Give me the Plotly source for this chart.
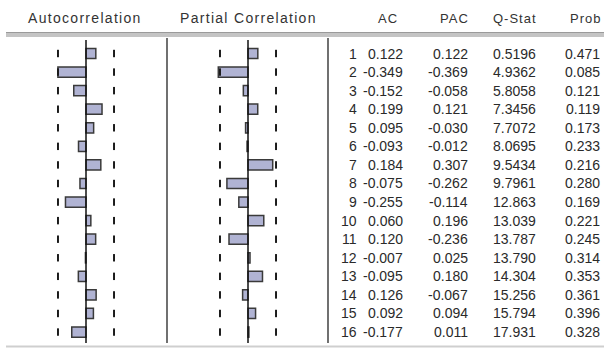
import plotly.graph_objects as go

# Correlogram of a series with 33 observations, lags 1..16
lags = list(range(1, 17))
ac = [0.122, -0.349, -0.152, 0.199, 0.095, -0.093, 0.184, -0.075,
      -0.255, 0.060, 0.120, -0.007, -0.095, 0.126, 0.092, -0.177]
pac = [0.122, -0.369, -0.058, 0.121, -0.030, -0.012, 0.307, -0.262,
       -0.114, 0.196, -0.236, 0.025, 0.180, -0.067, 0.094, 0.011]
q_stat = [0.5196, 4.9362, 5.8058, 7.3456, 7.7072, 8.0695, 9.5434, 9.7961,
          12.863, 13.039, 13.787, 13.790, 14.304, 15.256, 15.794, 17.931]
prob = [0.471, 0.085, 0.121, 0.119, 0.173, 0.233, 0.216, 0.280,
        0.169, 0.221, 0.245, 0.314, 0.353, 0.361, 0.396, 0.328]
n_obs = 33
col_headers = ["AC", "PAC", "Q-Stat", "Prob"]

W, H = 604, 349
bound = 2 / n_obs ** 0.5          # approx. 2 standard-error band
px_per_unit = 80.5                # bar scale, pixels per unit correlation
row_top, row_step = 53.5, 18.57   # pixel centre of lag 1, spacing between lags

def px_to_lag(py):
    return 1 + (py - row_top) / row_step

def xrange_for(zero_px):
    return [-zero_px / px_per_unit, (W - zero_px) / px_per_unit]

BAR_FILL = "#b0b3d3"
BAR_LINE = "#3a3a3a"
TXT = "#2a2a2a"
FONT = "Arial, Liberation Sans, sans-serif"

fig = go.Figure()

# bars
fig.add_trace(go.Bar(y=lags, x=ac, orientation="h", width=0.55, base=0,
                     marker=dict(color=BAR_FILL, line=dict(color=BAR_LINE, width=1.5)),
                     xaxis="x", yaxis="y", hoverinfo="skip"))
fig.add_trace(go.Bar(y=lags, x=pac, orientation="h", width=0.55, base=0,
                     marker=dict(color=BAR_FILL, line=dict(color=BAR_LINE, width=1.5)),
                     xaxis="x2", yaxis="y", hoverinfo="skip"))

# dashed confidence bands: one short tick per lag
def band_xy(sign):
    xs, ys = [], []
    for l in lags:
        xs += [sign * bound, sign * bound, None]
        ys += [l - 0.2, l + 0.2, None]
    return xs, ys

for ax in ("x", "x2"):
    for s in (-1, 1):
        bx, by = band_xy(s)
        fig.add_trace(go.Scatter(x=bx, y=by, mode="lines",
                                 line=dict(color="#1a1a1a", width=2),
                                 xaxis=ax, yaxis="y", hoverinfo="skip"))

shapes = []
# zero lines
for ax in ("x", "x2"):
    shapes.append(dict(type="line", xref=ax, yref="paper", x0=0, x1=0,
                       y0=1 - 40 / H, y1=1 - 343 / H,
                       line=dict(color="#111", width=1.5)))
# panel separators
for px in (167, 328):
    shapes.append(dict(type="line", xref="paper", yref="paper",
                       x0=px / W, x1=px / W, y0=1 - 38 / H, y1=1 - 343 / H,
                       line=dict(color="#111", width=1.2)))
# header rule
shapes.append(dict(type="rect", xref="paper", yref="paper", x0=6 / W, x1=1,
                   y0=1 - 37 / H, y1=1 - 32 / H, fillcolor="#c4c4c4",
                   line=dict(width=0), layer="below"))
shapes.append(dict(type="line", xref="paper", yref="paper", x0=6 / W, x1=1,
                   y0=1 - 32.5 / H, y1=1 - 32.5 / H,
                   line=dict(color="#9a9a9a", width=1)))
# bottom rule
shapes.append(dict(type="line", xref="paper", yref="paper", x0=6 / W, x1=1,
                   y0=1 - 346.5 / H, y1=1 - 346.5 / H,
                   line=dict(color="#cfcfcf", width=2)))

annotations = []
def header(text, cx, anchor="center", size=14, spacing=1.3):
    annotations.append(dict(
        text=f'<span style="letter-spacing:{spacing}px">{text}</span>',
        x=cx / W, y=1 - 18 / H, xref="paper", yref="paper",
        xanchor=anchor, yanchor="middle", showarrow=False,
        borderpad=0, borderwidth=0,
        font=dict(family=FONT, size=size, color="#333")))

header("Autocorrelation", 85)
header("Partial Correlation", 248)
for h, right in zip(col_headers, (398, 469, 537, 601)):
    header(h, right, anchor="right", size=13, spacing=1.0)

def cell(text, right_px, lag):
    annotations.append(dict(
        text=text, x=right_px / W, y=lag, xref="paper", yref="y",
        xanchor="right", yanchor="middle", showarrow=False,
        borderpad=0, borderwidth=0,
        font=dict(family=FONT, size=14, color=TXT)))

def fmt_q(q):
    return f"{q:.4f}" if q < 10 else f"{q:.3f}"

for i, l in enumerate(lags):
    cell(str(l), 357, l)
    cell(f"{ac[i]:.3f}", 403, l)
    cell(f"{pac[i]:.3f}", 468, l)
    cell(fmt_q(q_stat[i]), 536, l)
    cell(f"{prob[i]:.3f}", 600, l)

fig.update_layout(
    width=W, height=H,
    margin=dict(l=0, r=0, t=0, b=0),
    paper_bgcolor="white", plot_bgcolor="white",
    showlegend=False, barmode="overlay",
    xaxis=dict(range=xrange_for(86), domain=[0, 1], visible=False, fixedrange=True),
    xaxis2=dict(range=xrange_for(248), overlaying="x", anchor="y",
                visible=False, fixedrange=True),
    yaxis=dict(range=[px_to_lag(H), px_to_lag(0)], domain=[0, 1],
               visible=False, fixedrange=True),
    shapes=shapes, annotations=annotations,
)

fig.write_html("out.html", config={"displayModeBar": False})
